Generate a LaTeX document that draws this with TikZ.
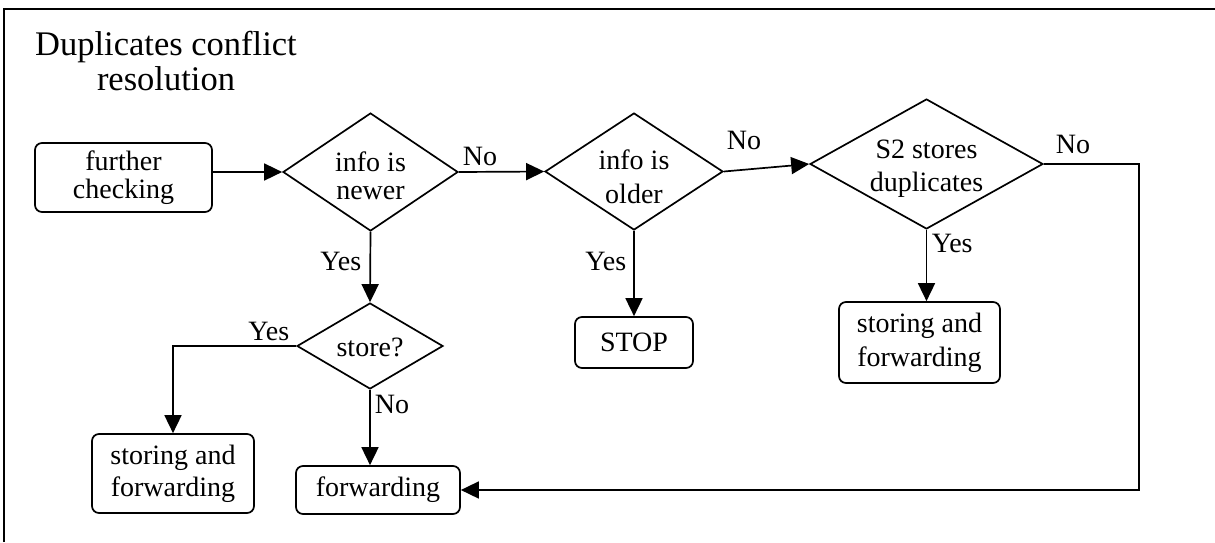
\documentclass[tikz,border=0pt]{standalone}
\usepackage{fontspec}
\setmainfont{Liberation Serif}
\usetikzlibrary{shapes.geometric,arrows.meta}
\begin{document}
\begin{tikzpicture}[x=1pt,y=-1pt,
  line width=1.7pt,
  box/.style={draw, rounded corners=7pt, align=center, inner sep=0pt},
  dia/.style={draw, diamond, inner sep=0pt},
  txt/.style={align=center, inner sep=0pt},
  lbl/.style={inner sep=0pt, font=\fontsize{28}{31}\selectfont},
  flow/.style={-{Triangle[length=18pt,width=17pt]}},
]
\useasboundingbox (0,0) rectangle (1215,542);
% frame
\draw (4,542) -- (4,9) -- (1215,9);

% title
\node[txt, font=\fontsize{34.5}{35}\selectfont] (title) at (166,60.7) {Duplicates conflict\\resolution};

% decisions
\node[dia, minimum width=175pt, minimum height=118pt] (d1) at (370.5,172) {};
\node[txt, font=\fontsize{28}{28}\selectfont] (t1) at (370.5,176) {info is\\newer};
\node[dia, minimum width=178pt, minimum height=117pt] (d2) at (634,171.5) {};
\node[txt, font=\fontsize{28}{34}\selectfont] (t2) at (634,177) {info is\\older};
\node[dia, minimum width=233pt, minimum height=130pt] (d3) at (926.5,164) {};
\node[txt, font=\fontsize{28}{33}\selectfont] (t3) at (926.5,169) {S2 stores\\duplicates};
\node[dia, minimum width=146pt, minimum height=86pt] (d4) at (370,346) {};
\node[txt, font=\fontsize{28}{31}\selectfont] (t4) at (370,347.5) {store?};

% actions
\node[box, minimum width=177pt, minimum height=69pt, font=\fontsize{28}{28}\selectfont] (start) at (123.5,177.5) {further\\checking};
\node[box, minimum width=118pt, minimum height=51pt, font=\fontsize{28}{31}\selectfont] (stop) at (634,342.5) {STOP};
\node[box, minimum width=161pt, minimum height=81pt, font=\fontsize{28}{34}\selectfont] (sfa) at (919.5,342.5) {storing and\\forwarding};
\node[box, minimum width=162pt, minimum height=79pt, font=\fontsize{28}{32}\selectfont] (sfb) at (173,473.5) {storing and\\forwarding};
\node[box, minimum width=164pt, minimum height=48pt, font=\fontsize{28}{31}\selectfont] (fw) at (378,490) {forwarding};

% connectors
\coordinate (turn) at (1139,490);
\draw[flow] (start.east |- d1.west) -- (d1.west);
\draw[flow] (d1.east) -- (d2.west);
\draw[flow] (d2.east) -- (d3.west);
\draw[flow] (d1.south) -- (d4.north);
\draw[flow] (d2.south) -- (stop.north);
\draw[flow] (d3.south) -- (d3.south |- sfa.north);
\draw[flow] (d4.west) -| (sfb.north);
\draw[flow] (d4.south) -- (d4.south |- fw.north);
\draw[flow] (d3.east) -| (turn) -- (fw.east);

% branch labels
\node[lbl, anchor=base west] (n1) at (462,165) {No};
\node[lbl, anchor=base west] (n2) at (726,149) {No};
\node[lbl, anchor=base west] (n3) at (1055,153) {No};
\node[lbl, anchor=base east] (y1) at (362,270) {Yes};
\node[lbl, anchor=base east] (y2) at (627,270) {Yes};
\node[lbl, anchor=base west] (y3) at (931,252) {Yes};
\node[lbl, anchor=base east] (y4) at (290,340) {Yes};
\node[lbl, anchor=base west] (n4) at (374,413) {No};
\end{tikzpicture}
\end{document}
